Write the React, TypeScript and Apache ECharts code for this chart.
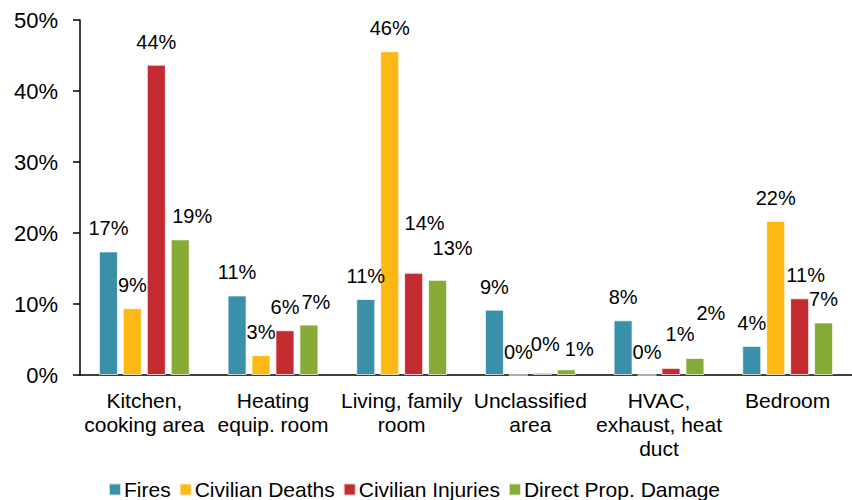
import React, { useEffect, useRef } from "react";
import * as echarts from "echarts";

const categories = [
  "Kitchen,\ncooking area",
  "Heating\nequip. room",
  "Living, family\nroom",
  "Unclassified\narea",
  "HVAC,\nexhaust, heat\nduct",
  "Bedroom",
];
const seriesNames = ["Fires", "Civilian Deaths", "Civilian Injuries", "Direct Prop. Damage"];
const fires = [17.4, 11.2, 10.7, 9.2, 7.7, 4.1];
const deaths = [9.4, 2.8, 45.6, 0, 0, 21.7];
const injuries = [43.7, 6.3, 14.4, 0.3, 1.0, 10.8];
const damage = [19.1, 7.1, 13.4, 0.8, 2.4, 7.4];
const yTicks = [0, 10, 20, 30, 40, 50];

// label nudges (style only), matching the reference's manually moved labels
const labelOffsets: number[][][] = [
  [[0, 0], [0, 0], [0, 0], [0, 0], [0, 0], [0, 0]],
  [[0, 0], [0, 0], [0, 0], [0, 0], [0, 0], [0, 0]],
  [[0, 0], [0, 0], [11, -27], [3, -6], [9, -11], [6, 0]],
  [[12, 0], [7, 0], [15, -9], [13, 3], [16, -22], [0, 0]],
];

const colors = ["#3A90A8", "#FDB813", "#C42B30", "#86AB37"];
const FONT = "'Liberation Sans', Arial, sans-serif";

export default function App() {
  const ref = useRef<HTMLDivElement>(null);
  useEffect(() => {
    if (!ref.current) return;
    const chart = echarts.init(ref.current, null, { renderer: "svg" });
    const allData = [fires, deaths, injuries, damage];
    chart.setOption({
      animation: false,
      textStyle: { fontFamily: FONT },
      grid: { left: 80, top: 20, width: 777, height: 355, containLabel: false },
      legend: {
        data: seriesNames,
        left: 103,
        top: 474,
        itemWidth: 12,
        itemHeight: 12,
        itemGap: 8,
        icon: "rect",
        textStyle: { fontSize: 21, color: "#000", fontFamily: FONT, padding: [0, 0, 0, -2] },
      },
      xAxis: {
        type: "category",
        data: categories,
        axisLine: { lineStyle: { color: "#000", width: 1.5 } },
        axisTick: { show: false },
        axisLabel: {
          color: "#000",
          fontSize: 21,
          lineHeight: 24,
          margin: 13,
          interval: 0,
          fontFamily: FONT,
        },
      },
      yAxis: {
        type: "value",
        min: yTicks[0],
        max: yTicks[yTicks.length - 1],
        interval: 10,
        splitLine: { show: false },
        axisLine: { show: true, lineStyle: { color: "#000", width: 1.5 } },
        axisTick: { show: true, length: 7, lineStyle: { color: "#000", width: 1.5 } },
        axisLabel: {
          color: "#000",
          fontSize: 22,
          margin: 22,
          fontFamily: FONT,
          formatter: "{value}%",
        },
      },
      series: allData.map((arr, si) => ({
        name: seriesNames[si],
        type: "bar",
        barWidth: 19,
        barGap: "26%",
        itemStyle: { color: colors[si], borderColor: "rgba(255,255,255,0.7)", borderWidth: 1 },
        label: {
          show: true,
          position: "top",
          distance: 13,
          color: "#000",
          fontSize: 20,
          fontFamily: FONT,
          formatter: (p: any) => Math.round(p.value) + "%",
        },
        data: arr.map((v, ci) => ({
          value: v,
          label: { offset: labelOffsets[si][ci] },
        })),
      })),
    });
    return () => chart.dispose();
  }, []);
  return (
    <div
      ref={ref}
      style={{ position: "absolute", left: 0, top: 0, width: 852, height: 500 }}
    />
  );
}
